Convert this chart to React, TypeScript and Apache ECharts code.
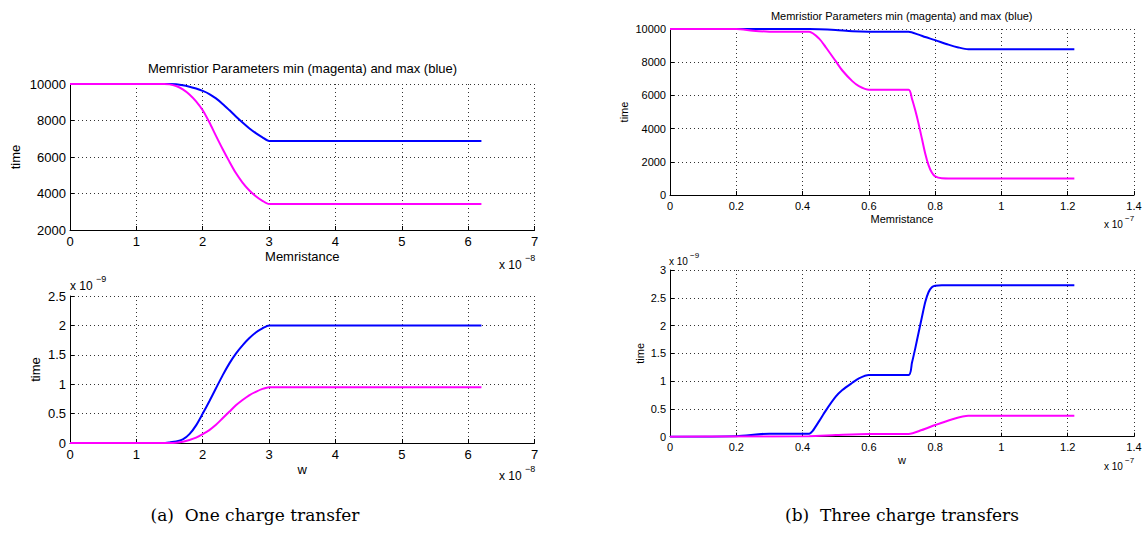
import React, { useEffect, useRef } from "react";
import * as echarts from "echarts";

// ---- Panel (a) one charge transfer: x in units of 1e-8 ----
const aX = [0, 1.3, 1.4, 1.5, 1.6, 1.7, 1.8, 1.9, 2.0, 2.1, 2.2, 2.3, 2.4, 2.5, 2.6, 2.7, 2.8, 2.9, 3.0, 6.2];
const aTopBlue = [10000, 10000, 10000, 10000, 9980, 9930, 9850, 9750, 9620, 9450, 9210, 8910, 8570, 8220, 7890, 7580, 7310, 7080, 6880, 6880];
const aTopMagenta = [10000, 10000, 9995, 9980, 9890, 9710, 9430, 9050, 8560, 7900, 7160, 6440, 5760, 5120, 4600, 4180, 3850, 3600, 3420, 3420];
// bottom: y in units of 1e-9
const aBotBlue = [0, 0, 0, 0.01, 0.025, 0.06, 0.15, 0.3, 0.5, 0.71, 0.93, 1.15, 1.35, 1.52, 1.66, 1.78, 1.88, 1.95, 2.0, 2.0];
const aBotMagenta = [0, 0, 0, 0, 0.005, 0.02, 0.05, 0.09, 0.15, 0.22, 0.31, 0.42, 0.53, 0.64, 0.73, 0.81, 0.87, 0.92, 0.95, 0.95];

// ---- Panel (b) three charge transfers: x in units of 1e-7 ----
const bTopBlueX = [0, 0.42, 0.45, 0.5, 0.55, 0.6, 0.72, 0.75, 0.77, 0.8, 0.84, 0.87, 0.9, 1.22];
const bTopBlue = [10000, 10000, 9990, 9940, 9870, 9840, 9830, 9660, 9520, 9330, 9060, 8890, 8780, 8780];
const bTopMagentaX = [0, 0.2, 0.25, 0.3, 0.42, 0.45, 0.47, 0.5, 0.52, 0.55, 0.57, 0.6, 0.72, 0.73, 0.74, 0.75, 0.76, 0.77, 0.78, 0.79, 0.8, 0.82, 0.85, 1.22];
const bTopMagenta = [10000, 10000, 9900, 9840, 9830, 9420, 8900, 8060, 7500, 6860, 6560, 6340, 6340, 5800, 5100, 4300, 3400, 2500, 1800, 1350, 1120, 1010, 1000, 1000];
const bBotBlueX = [0, 0.2, 0.3, 0.42, 0.43, 0.45, 0.47, 0.5, 0.52, 0.55, 0.57, 0.6, 0.72, 0.73, 0.74, 0.75, 0.76, 0.77, 0.78, 0.79, 0.8, 0.82, 1.22];
const bBotBlue = [0, 0.01, 0.055, 0.055, 0.1, 0.28, 0.47, 0.72, 0.84, 0.97, 1.05, 1.11, 1.11, 1.33, 1.59, 1.87, 2.15, 2.42, 2.6, 2.69, 2.715, 2.725, 2.725];
const bBotMagentaX = [0, 0.2, 0.42, 0.5, 0.6, 0.72, 0.76, 0.8, 0.85, 0.9, 1.22];
const bBotMagenta = [0, 0.003, 0.01, 0.03, 0.05, 0.05, 0.12, 0.21, 0.31, 0.375, 0.375];

const TITLE = "Memristior Parameters min (magenta) and max (blue)";
const CAPTION_A = "(a)  One charge transfer";
const CAPTION_B = "(b)  Three charge transfers";

const SANS = "'Liberation Sans', Arial, Helvetica, sans-serif";
const SERIF = "'DejaVu Serif', 'Liberation Serif', serif";
const BLUE = "#0000ff";
const MAGENTA = "#ff00ff";

const zip = (xs: number[], ys: number[]) => xs.map((x, i) => [x, ys[i]]);

function xAxisCfg(gridIndex: number, max: number, interval: number, name: string, fs: number, gap: number) {
  return {
    type: "value",
    gridIndex,
    min: 0,
    max,
    interval,
    name,
    nameLocation: "middle",
    nameGap: gap,
    nameTextStyle: { fontFamily: SANS, fontSize: fs, color: "#000" },
    axisLine: { show: true, onZero: false, lineStyle: { color: "#000", width: 1 } },
    axisTick: { show: true, inside: true, length: 4, lineStyle: { color: "#000" } },
    axisLabel: {
      fontFamily: SANS,
      fontSize: fs,
      color: "#000",
      margin: 5,
      formatter: (v: number) => String(Math.round(v * 10) / 10),
    },
    splitLine: { show: true, lineStyle: { color: "#333", width: 1, type: [1, 3] } },
  };
}

function yAxisCfg(gridIndex: number, min: number, max: number, interval: number, fs: number, gap: number) {
  return {
    type: "value",
    gridIndex,
    min,
    max,
    interval,
    name: "time",
    nameLocation: "middle",
    nameGap: gap,
    nameTextStyle: { fontFamily: SANS, fontSize: fs, color: "#000" },
    axisLine: { show: true, onZero: false, lineStyle: { color: "#000", width: 1 } },
    axisTick: { show: true, inside: true, length: 4, lineStyle: { color: "#000" } },
    axisLabel: {
      fontFamily: SANS,
      fontSize: fs,
      color: "#000",
      margin: 4,
      formatter: (v: number) => String(Math.round(v * 10) / 10),
    },
    splitLine: { show: true, lineStyle: { color: "#333", width: 1, type: [1, 3] } },
  };
}

function line(idx: number, data: number[][], color: string) {
  return {
    type: "line",
    xAxisIndex: idx,
    yAxisIndex: idx,
    data,
    showSymbol: false,
    symbol: "none",
    smooth: 0.25,
    lineStyle: { color, width: 2 },
    itemStyle: { color },
  };
}

function txt(x: number, y: number, text: string, fs: number, align = "center", family = SANS) {
  return {
    type: "text",
    x,
    y,
    style: { text, fontSize: fs, fontFamily: family, fill: "#000", align, verticalAlign: "middle" },
  };
}

export default function App() {
  const ref = useRef<HTMLDivElement>(null);
  useEffect(() => {
    if (!ref.current) return;
    const chart = echarts.init(ref.current, null, { renderer: "svg" });
    chart.setOption({
      animation: false,
      backgroundColor: "#fff",
      grid: [
        { left: 70, top: 84, width: 464.5, height: 146 },
        { left: 70, top: 296, width: 464.5, height: 147 },
        { left: 670, top: 29, width: 464, height: 166 },
        { left: 670, top: 270, width: 464, height: 166.7 },
      ],
      xAxis: [
        xAxisCfg(0, 7, 1, "Memristance", 13, 20),
        xAxisCfg(1, 7, 1, "w", 13, 20),
        xAxisCfg(2, 1.4, 0.2, "Memristance", 11, 18),
        xAxisCfg(3, 1.4, 0.2, "w", 11, 18),
      ],
      yAxis: [
        yAxisCfg(0, 2000, 10000, 2000, 13, 48),
        yAxisCfg(1, 0, 2.5, 0.5, 13, 28),
        yAxisCfg(2, 0, 10000, 2000, 11, 41),
        yAxisCfg(3, 0, 3, 0.5, 11, 25),
      ],
      series: [
        line(0, zip(aX, aTopBlue), BLUE),
        line(0, zip(aX, aTopMagenta), MAGENTA),
        line(1, zip(aX, aBotBlue), BLUE),
        line(1, zip(aX, aBotMagenta), MAGENTA),
        line(2, zip(bTopBlueX, bTopBlue), BLUE),
        line(2, zip(bTopMagentaX, bTopMagenta), MAGENTA),
        line(3, zip(bBotBlueX, bBotBlue), BLUE),
        line(3, zip(bBotMagentaX, bBotMagenta), MAGENTA),
      ],
      graphic: [
        txt(302.5, 68, TITLE, 13),
        txt(901.7, 16, TITLE, 11),
        // multipliers
        txt(499, 265, "x 10", 12, "left"),
        txt(525, 258, "\u22128", 9, "left"),
        txt(499, 476, "x 10", 12, "left"),
        txt(525, 469, "\u22128", 9, "left"),
        txt(70, 286, "x 10", 12, "left"),
        txt(96, 279, "\u22129", 9, "left"),
        txt(1104, 224, "x 10", 10, "left"),
        txt(1125, 218, "\u22127", 8, "left"),
        txt(1104, 466, "x 10", 10, "left"),
        txt(1125, 460, "\u22127", 8, "left"),
        txt(669, 261, "x 10", 10, "left"),
        txt(690, 255, "\u22129", 8, "left"),
        // captions
        txt(255, 515, CAPTION_A, 17, "center", SERIF),
        txt(902, 515, CAPTION_B, 17, "center", SERIF),
      ],
    });
    return () => chart.dispose();
  }, []);
  return (
    <div
      ref={ref}
      style={{ position: "fixed", left: 0, top: 0, width: 1148, height: 537, background: "#fff" }}
    />
  );
}
